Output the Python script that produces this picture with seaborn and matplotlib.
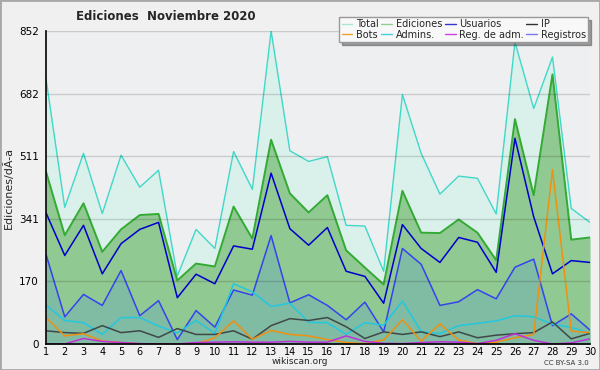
import numpy as np
import pandas as pd
import matplotlib
matplotlib.use("Agg")
import matplotlib.pyplot as plt
import seaborn as sns
from matplotlib.patches import Rectangle
from matplotlib.lines import Line2D

days = list(range(1, 31))

total = [722, 372, 519, 355, 514, 427, 473, 185, 312, 260,
         524, 421, 852, 526, 497, 510, 323, 321, 198, 679,
         519, 408, 457, 451, 354, 822, 641, 781, 369, 331]
ediciones = [469, 296, 383, 251, 312, 351, 354, 173, 219, 211,
             374, 287, 556, 410, 358, 405, 255, 208, 162, 417,
             303, 302, 339, 303, 228, 612, 405, 734, 284, 290]
usuarios = [357, 241, 323, 191, 273, 312, 331, 126, 190, 164,
            267, 258, 465, 314, 269, 317, 198, 184, 111, 325,
            260, 222, 290, 277, 195, 560, 346, 191, 227, 222]
registros = [244, 74, 135, 105, 200, 77, 118, 12, 91, 46,
             147, 133, 295, 112, 134, 105, 66, 114, 33, 260,
             217, 105, 115, 148, 123, 209, 231, 50, 82, 38]
admins = [106, 64, 58, 26, 72, 72, 49, 30, 64, 29,
          164, 142, 102, 111, 59, 58, 26, 58, 51, 117,
          34, 28, 50, 56, 63, 77, 74, 54, 45, 29]
ip = [36, 31, 29, 50, 31, 36, 18, 42, 26, 26,
      36, 13, 50, 69, 64, 72, 47, 15, 33, 26,
      33, 20, 33, 17, 24, 28, 31, 60, 14, 29]
bots = [72, 22, 28, 8, 4, 0, 0, 0, 0, 17,
        63, 13, 37, 26, 22, 12, 4, 1, 11, 66,
        8, 55, 11, 1, 5, 17, 26, 474, 35, 31]
reg_adm = [0, 0, 15, 7, 4, 1, 0, 0, 4, 5,
           6, 5, 5, 7, 5, 5, 22, 7, 2, 1,
           4, 6, 5, 1, 10, 28, 10, 0, 3, 14]

y_max = 852
ytick_labels = ["0", "170", "341", "511", "682", "852"]

df = pd.DataFrame({"dia": days, "Total": total, "Ediciones": ediciones,
                   "Usuarios": usuarios, "Registros": registros,
                   "Admins.": admins, "IP": ip, "Bots": bots,
                   "Reg. de adm.": reg_adm})

sns.set_style("white")
plt.rcParams["font.family"] = ["DejaVu Sans"]

fig = plt.figure(figsize=(6, 3.7), dpi=100, facecolor="#F0F0F0")
ax = fig.add_axes([46 / 600, 1 - 344 / 370, 544 / 600, 313 / 370])
ax.set_facecolor("#EEEFF1")

# areas rellenas
ax.fill_between(df["dia"], 0, df["Total"], color="#DAF0EA", lw=0)
sns.lineplot(data=df, x="dia", y="Total", ax=ax, color="#40D8C8", lw=1)
ax.fill_between(df["dia"], 0, df["Ediciones"], color="#90C992", lw=0)
sns.lineplot(data=df, x="dia", y="Ediciones", ax=ax, color="#33AA33", lw=1.4)
ax.fill_between(df["dia"], 0, df["Registros"], color="#80BBA4", lw=0)

# lineas
sns.lineplot(data=df, x="dia", y="Usuarios", ax=ax, color="#0000CC", lw=1.1)
sns.lineplot(data=df, x="dia", y="Registros", ax=ax, color="#3344EE", lw=1.1)
sns.lineplot(data=df, x="dia", y="Admins.", ax=ax, color="#22C8E0", lw=1.1)
sns.lineplot(data=df, x="dia", y="IP", ax=ax, color="#404848", lw=1.1)
sns.lineplot(data=df, x="dia", y="Bots", ax=ax, color="#F09010", lw=1.1)
sns.lineplot(data=df, x="dia", y="Reg. de adm.", ax=ax, color="#C030D8", lw=1.1)

ax.set_xlim(1, 30)
ax.set_ylim(0, y_max)
ax.set_xticks(days)
ax.set_xticklabels([str(d) for d in days], fontsize=7)
ax.set_yticks([y_max * i / 5 for i in range(6)])
ax.set_yticklabels(ytick_labels, fontsize=7.5)
ax.set_yticks([y_max * i / 20 for i in range(21)], minor=True)
ax.tick_params(axis="x", direction="out", length=2, width=1, pad=0.5, colors="black")
ax.tick_params(axis="y", direction="out", length=4, width=1, pad=1, colors="black")
ax.tick_params(axis="y", which="minor", length=3, width=1)
ax.set_axisbelow(False)
ax.yaxis.grid(True, color="black", alpha=0.15, lw=1)
ax.xaxis.grid(False)
for s in ["top", "right"]:
    ax.spines[s].set_visible(False)
for s in ["left", "bottom"]:
    ax.spines[s].set_color("black")
    ax.spines[s].set_linewidth(1.2)
ax.set_xlabel("")
ax.set_ylabel("Ediciones/dÃ-a", fontsize=8, labelpad=4)

fig.text(166 / 600, 1 - 17 / 370, "Ediciones  Noviembre 2020", ha="center", va="center",
         fontsize=8.5, fontweight="bold")
fig.text(300 / 600, 1 - 362 / 370, "wikiscan.org", ha="center", va="center", fontsize=6.5)
fig.text(589 / 600, 1 - 363 / 370, "CC BY-SA 3.0", ha="right", va="center", fontsize=5,
         color="#333333")

names = ["Total", "Bots", "Ediciones", "Admins.", "Usuarios", "Reg. de adm.", "IP", "Registros"]
cols = ["#A8E6DA", "#F0A030", "#90D090", "#40D0E0", "#3535D0", "#D040E0", "#303030", "#7878F0"]
handles = [Line2D([0], [0], color=c, lw=1) for c in cols]
leg = fig.legend(handles, names, ncol=4, loc="upper right",
                 bbox_to_anchor=(593 / 600, 1 - 12 / 370), fontsize=7,
                 handlelength=1.1, handletextpad=0.35, columnspacing=0.3,
                 labelspacing=0.05, borderpad=0.25, fancybox=False, shadow=True,
                 framealpha=1, facecolor="#F8F8F8", edgecolor="#999999")

fig.patches.append(Rectangle((0, 0), 1, 1, transform=fig.transFigure, fill=False,
                             edgecolor="#A8A8A8", lw=2))

fig.savefig("out.png", dpi=100, facecolor=fig.get_facecolor())
